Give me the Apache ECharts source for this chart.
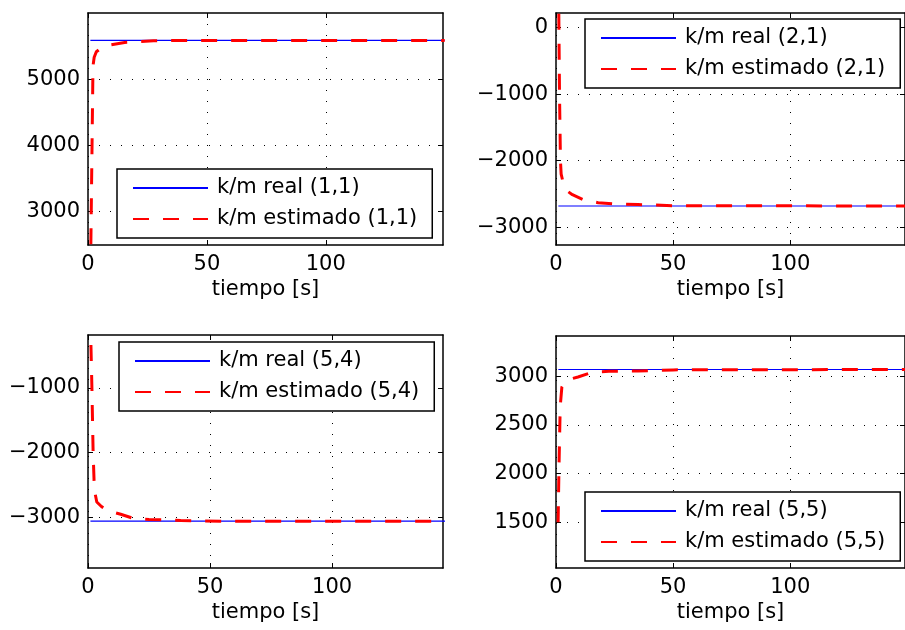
<!DOCTYPE html>
<html>
<head>
<meta charset="utf-8">
<script src="https://cdn.jsdelivr.net/npm/echarts@6/dist/echarts.min.js"></script>
<style>
  html, body { margin: 0; padding: 0; background: #ffffff; }
  #chart { width: 905px; height: 630px; }
</style>
</head>
<body>
<div id="chart"></div>
<script>
// Element labels of the four stiffness/mass terms
const panelTags = ['(1,1)', '(2,1)', '(5,4)', '(5,5)'];

// True k/m value of each term (constant over the run)
const realValues = [5585, -2680, -3057, 3070];
const realTime = [1, 150];

// Estimated k/m for each term: time [s] and value
const estTime1 = [1.2, 1.7, 2.1, 2.6, 3.5, 5.6, 8.8, 15.4, 21, 27.6, 34, 45, 150];
const estValues1 = [2500, 4000, 5200, 5330, 5413, 5473, 5514, 5555, 5564, 5579, 5583, 5585, 5585];

const estTime2 = [1.2, 1.5, 1.9, 2.2, 3.2, 5, 7, 12, 18, 24, 35, 50, 150];
const estValues2 = [210, -1000, -2000, -2200, -2350, -2460, -2510, -2590, -2630, -2645, -2658, -2675, -2680];

const estTime3 = [1.2, 1.6, 2.1, 2.5, 2.9, 3.6, 5.5, 7.7, 10, 13.4, 19.2, 25, 32, 38, 44, 55, 150];
const estValues3 = [-340, -1000, -2000, -2450, -2630, -2760, -2830, -2887, -2915, -2950, -3020, -3031, -3035, -3045, -3052, -3057, -3057];

const estTime4 = [0.9, 1.3, 1.8, 2.5, 3.9, 6, 9.4, 15.7, 22.6, 28.2, 35, 40.5, 50, 150];
const estValues4 = [1500, 2100, 2690, 2890, 2941, 2970, 2993, 3044, 3051, 3052, 3054, 3058, 3066, 3070];

// Tick positions
const timeTicks = [0, 50, 100];
const yTicks1 = [3000, 4000, 5000];
const yTicks2 = [-3000, -2000, -1000, 0];
const yTicks3 = [-3000, -2000, -1000];
const yTicks4 = [1500, 2000, 2500, 3000];

const estTimes = [estTime1, estTime2, estTime3, estTime4];
const estValues = [estValues1, estValues2, estValues3, estValues4];
const yTicks = [yTicks1, yTicks2, yTicks3, yTicks4];

// Layout of the 2x2 panels
const layout = [
  { grid: { left: 88, top: 13, width: 355, height: 232 }, xMax: 149.3, yMin: 2490, yMax: 6000, legend: { left: 117, top: 169 } },
  { grid: { left: 556, top: 13, width: 357, height: 232 }, xMax: 149, yMin: -3266, yMax: 220, legend: { left: 585, top: 19 } },
  { grid: { left: 88, top: 335, width: 355, height: 233 }, xMax: 145.4, yMin: -3778, yMax: -187, legend: { left: 119, top: 342 } },
  { grid: { left: 556, top: 336, width: 357, height: 232 }, xMax: 149, yMin: 1031, yMax: 3414, legend: { left: 585, top: 492 } }
];

const FONT = 'DejaVu Sans';
const FS = 21;
const minusFmt = v => (v < 0 ? '\u2212' + Math.abs(v) : String(v));

const axisLine = { show: true, onZero: false, lineStyle: { color: '#000', width: 1.5 } };
const gridDots = { show: true, lineStyle: { color: '#000', width: 1, type: [1, 10] } };

const grids = [], xAxes = [], yAxes = [], series = [], legends = [];

layout.forEach((p, i) => {
  grids.push(Object.assign({ show: false }, p.grid));
  const realName = 'k/m real ' + panelTags[i];
  const estName = 'k/m estimado ' + panelTags[i];

  // bottom (labelled) and top (ticks only) time axes
  xAxes.push({
    gridIndex: i, type: 'value', position: 'bottom', min: 0, max: p.xMax,
    axisLine: axisLine,
    axisTick: { show: true, inside: true, length: 5, customValues: timeTicks, lineStyle: { color: '#000' } },
    axisLabel: { customValues: timeTicks, fontFamily: FONT, fontSize: FS, color: '#000', margin: 9 },
    splitLine: gridDots,
    name: 'tiempo [s]', nameLocation: 'middle', nameGap: 34,
    nameTextStyle: { fontFamily: FONT, fontSize: FS, color: '#000' }
  });
  xAxes.push({
    gridIndex: i, type: 'value', position: 'top', min: 0, max: p.xMax,
    axisLine: axisLine,
    axisTick: { show: true, inside: true, length: 5, customValues: timeTicks, lineStyle: { color: '#000' } },
    axisLabel: { show: false },
    splitLine: { show: false }
  });

  // left (labelled) and right (ticks only) value axes
  yAxes.push({
    gridIndex: i, type: 'value', position: 'left', min: p.yMin, max: p.yMax,
    axisLine: axisLine,
    axisTick: { show: true, inside: true, length: 5, customValues: yTicks[i], lineStyle: { color: '#000' } },
    axisLabel: { customValues: yTicks[i], fontFamily: FONT, fontSize: FS, color: '#000', margin: 8, formatter: minusFmt },
    splitLine: gridDots
  });
  yAxes.push({
    gridIndex: i, type: 'value', position: 'right', min: p.yMin, max: p.yMax,
    axisLine: axisLine,
    axisTick: { show: true, inside: true, length: 5, customValues: yTicks[i], lineStyle: { color: '#000' } },
    axisLabel: { show: false },
    splitLine: { show: false }
  });

  series.push({
    name: realName, type: 'line', xAxisIndex: 2 * i, yAxisIndex: 2 * i,
    data: realTime.map(t => [t, realValues[i]]),
    symbol: 'none', showSymbol: false,
    lineStyle: { color: '#0000ff', width: 1.2 }, itemStyle: { color: '#0000ff' }
  });
  series.push({
    name: estName, type: 'line', xAxisIndex: 2 * i, yAxisIndex: 2 * i,
    data: estTimes[i].map((t, k) => [t, estValues[i][k]]),
    symbol: 'none', showSymbol: false,
    lineStyle: { color: '#ff0000', width: 3, type: [16, 14] }, itemStyle: { color: '#ff0000' }
  });

  legends.push({
    left: p.legend.left, top: p.legend.top, orient: 'vertical',
    data: [realName, estName], selectedMode: false,
    itemWidth: 75, itemHeight: 14, itemGap: 9,
    padding: [8, 15, 8, 15],
    borderColor: '#000', borderWidth: 1.5, borderRadius: 0, backgroundColor: '#fff',
    itemStyle: { opacity: 0 },
    textStyle: { fontFamily: FONT, fontSize: FS, color: '#000', lineHeight: 22, padding: [0, 0, 0, 4] }
  });
});

const chart = echarts.init(document.getElementById('chart'), null, { renderer: 'canvas' });
chart.setOption({
  animation: false,
  backgroundColor: '#ffffff',
  grid: grids,
  xAxis: xAxes,
  yAxis: yAxes,
  legend: legends,
  series: series
});
</script>
</body>
</html>
